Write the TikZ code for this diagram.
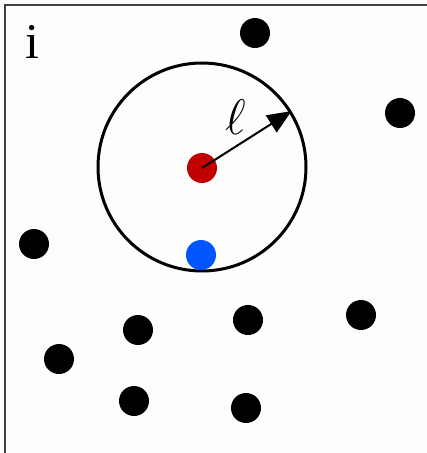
\RequirePackage{fix-cm}
\documentclass[tikz,border=0pt]{standalone}
\usepackage{fontspec}
\newfontfamily\labfont{Liberation Serif}
\usetikzlibrary{arrows.meta}
\definecolor{bg}{HTML}{FDFDFB}
\definecolor{dred}{HTML}{C00000}
\definecolor{dblue}{HTML}{0055FF}
\tikzset{
  dot/.style={circle,fill=black,inner sep=0pt,minimum size=30pt},
}
\begin{document}
\begin{tikzpicture}[x=1pt,y=-1pt]
\useasboundingbox[fill=bg] (0,0) rectangle (427,453);
\draw[line width=2pt,color=black!75] (427,5) -- (5,5) -- (5,453);
\node[font=\labfont\fontsize{50}{50}\selectfont,anchor=base] (lab) at (32,58) {i};
\node[circle,draw,line width=3pt,inner sep=0pt,minimum size=208pt] (c) at (202,167) {};
\node[dot,fill=dred] (r) at (202,168) {};
\node[dot,fill=dblue] (b) at (201,255) {};
\draw[line width=2pt,-{Triangle[length=24pt,width=20pt]}] (r.center) -- (c.32.5);
\node[inner sep=0pt] (ell) at (236,117) {\fontsize{50}{50}\selectfont$\ell$};
\node[dot] (d1) at (255,33) {};
\node[dot] (d2) at (400,113) {};
\node[dot] (d3) at (34,244) {};
\node[dot] (d4) at (138,330) {};
\node[dot] (d5) at (248,320) {};
\node[dot] (d6) at (361,315) {};
\node[dot] (d7) at (59,359) {};
\node[dot] (d8) at (134,401) {};
\node[dot] (d9) at (246,408) {};
\end{tikzpicture}
\end{document}
